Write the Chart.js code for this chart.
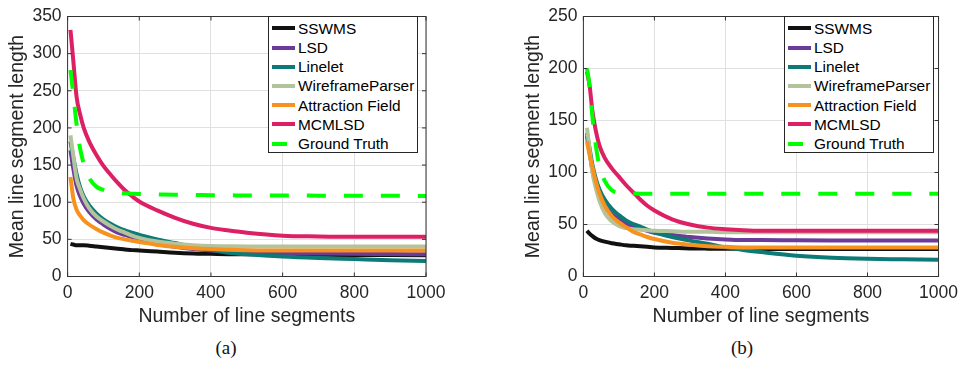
<!DOCTYPE html>
<html><head><meta charset="utf-8">
<script src="https://cdn.jsdelivr.net/npm/chart.js@4.4.0/dist/chart.umd.min.js"></script>
<style>
body{margin:0;width:964px;height:365px;background:#fff;position:relative;overflow:hidden;font-family:"Liberation Sans",Arial,Helvetica,sans-serif}
.wrap{position:absolute;top:0;width:482px;height:335px}
.legend{position:absolute;top:16px;width:148px;height:135px;border:1px solid #262626;background:#fff}
.row{position:absolute;left:0;width:150px;height:19px}
.sw{position:absolute;left:3px;height:4px}
.lt{position:absolute;left:29px;font-size:15.4px;line-height:19px;color:#000;white-space:nowrap}
.cap{position:absolute;top:337px;font-family:"Liberation Serif","Times New Roman",serif;font-size:19px;color:#111;transform:translateX(-50%)}
</style></head>
<body>
<div class="wrap" style="left:0"><canvas id="ca" width="482" height="335"></canvas></div>
<div class="wrap" style="left:482px"><canvas id="cb" width="482" height="335"></canvas></div>
<div class="legend" id="la" style="left:268px"></div>
<div class="legend" id="lb" style="left:784px"></div>
<div class="cap" style="left:226px">(a)</div>
<div class="cap" style="left:742px">(b)</div>
<script>
// ---- data ----
const seriesNames = ['SSWMS','LSD','Linelet','WireframeParser','Attraction Field','MCMLSD','Ground Truth'];
const seriesColors = ['#111111','#6c3b99','#0c7a76','#b3c39c','#f7921e','#dd1f63','#00ff00'];
const xTicks = [0,200,400,600,800,1000];
const yTicksA = [0,50,100,150,200,250,300,350];
const yTicksB = [0,50,100,150,200,250];

// chart (a)
const xA = [8,16,25,35,45,60,80,100,120,140,160,180,200,250,300,350,400,450,500,600,700,800,900,1000];
const sswmsA   = [44,43,42,42,42,41.5,40.5,39.5,38.5,37.5,36.5,35.5,35,33.5,32,31,30.5,30,29.8,29.5,29.2,29,28.8,28.7];
const lsdA     = [170,145,122,108,98,87,77,70,64,59,56,53,50,44,40,37,35,33.5,32.5,31.5,31,30.5,30.3,30];
const lineletA = [182,160,138,120,108,96,85,77,71,66,62,59,56,50,45,40,36,32,30,27,25,23.5,22,21];
const wireA    = [190,162,132,117,105,92,81,74,68,63,59,55,52,47,44,42,41,40.7,40.5,40.5,40.5,40.5,40.5,40.5];
const afmA     = [134,105,90,82,76,70,64,59,55,52,50,48,46.5,42.5,40,38,37,36,35.5,35,35,35,35,35];
const mcmA     = [332,290,242,218,200,182,164,149,137,126,116,108,101,89,79,71,65.5,62,59,55,54,53.5,53.5,53.5];
const gtA      = [278,245,205,172,152,133,121,116.5,114,112.5,112,111.5,111,110.5,110,109.8,109.5,109.3,109,109,108.8,108.7,108.6,108.5];

// chart (b)
const xB = [10,18,25,35,45,60,80,100,120,140,160,180,200,250,300,350,400,450,500,600,700,800,900,1000];
const sswmsB   = [44,41,39,36.5,35,33.5,32,31,30,29.5,29,28.5,28,27.5,27,26.8,26.7,26.6,26.5,26.5,26.5,26.5,26.5,26.5];
const lsdB     = [135,118,103,88,79,68,60,55,51,48,46,44,42,40,38,36.5,35.5,35,35,34.8,34.7,34.7,34.7,34.7];
const lineletB = [138,122,108,94,84,74,65,59,54,50.5,48,45,42.5,38,34.5,31.5,28,25.5,23.5,20,18,17,16.5,16];
const wireB    = [143,120,101,85,73,61,53,48.5,46.5,45.5,45,44.5,44,43.5,43,43,42.5,42.5,42.5,42.5,42.5,42.5,42.5,42.5];
const afmB     = [130,116,106,91,80,68,58,52,47.5,43,40.5,38,36,32.5,30.5,29,28.5,28,28,28,28,28,28,28];
const mcmB     = [197,182,160,140,126,114,104,96,88,81,74,68,63.5,55,50,47,45.5,44.5,44,44,44,44,44,44];
const gtB      = [200,182,155,126,106,92,83,80.5,80,79.8,79.6,79.5,79.5,79.5,79.5,79.5,79.5,79.5,79.5,79.5,79.5,79.5,79.5,79.5];

const seriesA = [sswmsA,lsdA,lineletA,wireA,afmA,mcmA,gtA];
const seriesB = [sswmsB,lsdB,lineletB,wireB,afmB,mcmB,gtB];

const FONT = '"Liberation Sans", Arial, Helvetica, sans-serif';
const TXT = '#262626';

const frame = {
  id:'frame',
  afterDraw(chart){
    const {ctx, chartArea:a, scales:{x,y}} = chart;
    ctx.save();
    ctx.strokeStyle = '#333';
    ctx.lineWidth = 1;
    ctx.strokeRect(a.left, a.top, a.right-a.left, a.bottom-a.top);
    const L = 4;
    ctx.beginPath();
    x.ticks.forEach(t=>{
      const p = x.getPixelForValue(t.value);
      ctx.moveTo(p,a.bottom); ctx.lineTo(p,a.bottom-L);
      ctx.moveTo(p,a.top); ctx.lineTo(p,a.top+L);
    });
    y.ticks.forEach(t=>{
      const p = y.getPixelForValue(t.value);
      ctx.moveTo(a.left,p); ctx.lineTo(a.left+L,p);
      ctx.moveTo(a.right,p); ctx.lineTo(a.right-L,p);
    });
    ctx.stroke();
    ctx.restore();
  }
};

function makeChart(id, xs, series, ymax, yTicks, pad){
  const datasets = series.map((arr,i)=>({
    label: seriesNames[i],
    data: xs.map((x,k)=>({x:x, y:arr[k]})),
    borderColor: seriesColors[i],
    backgroundColor: seriesColors[i],
    borderWidth: 4,
    borderDash: i===6 ? [19,18] : [],
    borderCapStyle: 'butt',
    pointRadius: 0,
    fill: false,
    cubicInterpolationMode: 'monotone',
    order: series.length - i
  }));
  return new Chart(document.getElementById(id), {
    type:'line',
    data:{datasets},
    plugins:[frame],
    options:{
      responsive:false, animation:false,
      layout:{padding:pad},
      plugins:{legend:{display:false}, tooltip:{enabled:false}},
      scales:{
        x:{type:'linear', min:0, max:1000,
           afterBuildTicks:(s)=>{ s.ticks = xTicks.map(v=>({value:v})); },
           ticks:{padding:6, color:TXT, font:{family:FONT,size:17.5}, callback:(v)=>String(v)},
           grid:{color:'#e0e0e0', drawTicks:false},
           border:{display:false},
           title:{display:true, text:'Number of line segments', color:TXT, font:{family:FONT,size:19.5}, padding:{top:0,bottom:6.3}},
           afterFit:(s)=>{ s.height = 58.5; }
        },
        y:{type:'linear', min:0, max:ymax,
           afterBuildTicks:(s)=>{ s.ticks = yTicks.map(v=>({value:v})); },
           ticks:{padding:6, color:TXT, font:{family:FONT,size:17.5}, callback:(v)=>String(v)},
           grid:{color:'#e0e0e0', drawTicks:false},
           border:{display:false},
           title:{display:true, text:'Mean line segment length', color:TXT, font:{family:FONT,size:19.5}, padding:{top:5.8,bottom:0}},
           afterFit:(s)=>{ s.width = 67.6; }
        }
      }
    }
  });
}

makeChart('ca', xA, seriesA, 350, yTicksA, {left:0, right:56, top:7.3, bottom:0});
makeChart('cb', xB, seriesB, 250, yTicksB, {left:33.8, right:22.3, top:7.3, bottom:0});

function makeLegend(id){
  const box = document.getElementById(id);
  seriesNames.forEach((n,i)=>{
    const row = document.createElement('div');
    row.className='row';
    const cy = 11.3 + i*19.23;
    row.style.top = (cy-9.5)+'px';
    const sw = document.createElement('div');
    sw.className='sw';
    sw.style.background = seriesColors[i];
    sw.style.top = '7.5px';
    sw.style.width = i===6 ? '15px' : '23px';
    const t = document.createElement('div');
    t.className='lt';
    t.style.top='0px';
    t.textContent = n;
    row.appendChild(sw); row.appendChild(t);
    box.appendChild(row);
  });
}
makeLegend('la'); makeLegend('lb');
</script>
</body></html>
